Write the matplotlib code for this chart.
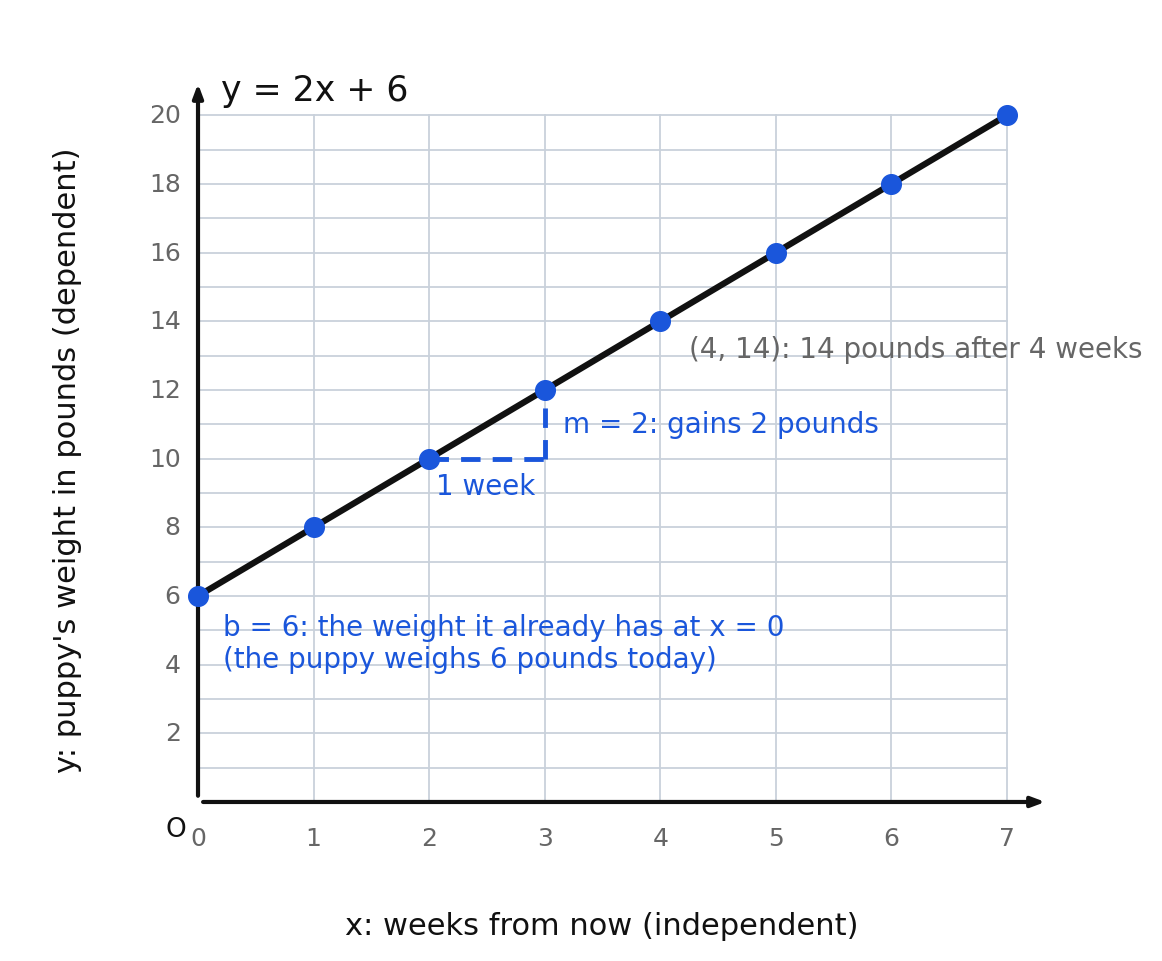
import matplotlib
matplotlib.use("Agg")
import matplotlib.pyplot as plt

weeks = [0, 1, 2, 3, 4, 5, 6, 7]
weights = [6, 8, 10, 12, 14, 16, 18, 20]
x_ticks = [0, 1, 2, 3, 4, 5, 6, 7]
y_ticks = [2, 4, 6, 8, 10, 12, 14, 16, 18, 20]

blue = "#1a56db"
gray = "#666666"
dark = "#111111"

fig = plt.figure(figsize=(11.62, 9.62), dpi=100)
ax = fig.add_axes([0.1704, 0.1653, 0.7315, 0.7495])
ax.set_xlim(0, 7.355)
ax.set_ylim(0, 21)
for s in ax.spines.values():
    s.set_visible(False)
ax.set_xticks([]); ax.set_yticks([])

for y in range(1, 21):
    ax.plot([0, 7], [y, y], color="#c9d1db", lw=1.3, zorder=1)
for x in range(1, 8):
    ax.plot([x, x], [0, 20], color="#c9d1db", lw=1.3, zorder=1)

ax.annotate("", xy=(7.355, 0), xytext=(0.02, 0),
            arrowprops=dict(arrowstyle="-|>,head_length=0.8,head_width=0.3", color=dark, lw=3), zorder=3)
ax.annotate("", xy=(0, 21), xytext=(0, 0.1),
            arrowprops=dict(arrowstyle="-|>,head_length=0.8,head_width=0.3", color=dark, lw=3), zorder=3)

for x in x_ticks:
    ax.text(x, -0.7, str(x), ha="center", va="top", fontsize=18, color=gray)
for y in y_ticks:
    ax.text(-0.15, y, str(y), ha="right", va="center", fontsize=18, color=gray)
ax.text(-0.1, -0.4, "O", ha="right", va="top", fontsize=19, color=dark)

ax.plot(weeks, weights, color=dark, lw=4.5, zorder=4)
ax.scatter(weeks, weights, s=200, color=blue, zorder=5, clip_on=False)

ax.plot([2, 3], [10, 10], color=blue, lw=3.5, ls=(0, (4, 2.5)), zorder=3)
ax.plot([3, 3], [10, 12], color=blue, lw=3.5, ls=(0, (4, 2.5)), zorder=3)
ax.text(2.06, 9.6, "1 week", ha="left", va="top", fontsize=20, color=blue)
ax.text(3.16, 11.0, "m = 2: gains 2 pounds", ha="left", va="center", fontsize=20, color=blue)
ax.text(4.25, 13.2, "(4, 14): 14 pounds after 4 weeks", ha="left", va="center", fontsize=20, color=gray)
ax.text(0.22, 4.63, "b = 6: the weight it already has at x = 0\n(the puppy weighs 6 pounds today)",
        ha="left", va="center", fontsize=20, color=blue, linespacing=1.2)
ax.text(0.2, 20.75, "y = 2x + 6", ha="left", va="center", fontsize=25, color=dark)

fig.text(0.518, 0.037, "x: weeks from now (independent)", ha="center", va="center", fontsize=22, color=dark)
fig.text(0.058, 0.522, "y: puppy's weight in pounds (dependent)", ha="center", va="center",
         rotation=90, fontsize=22, color=dark)

fig.savefig("out.png", dpi=100, facecolor="white")
